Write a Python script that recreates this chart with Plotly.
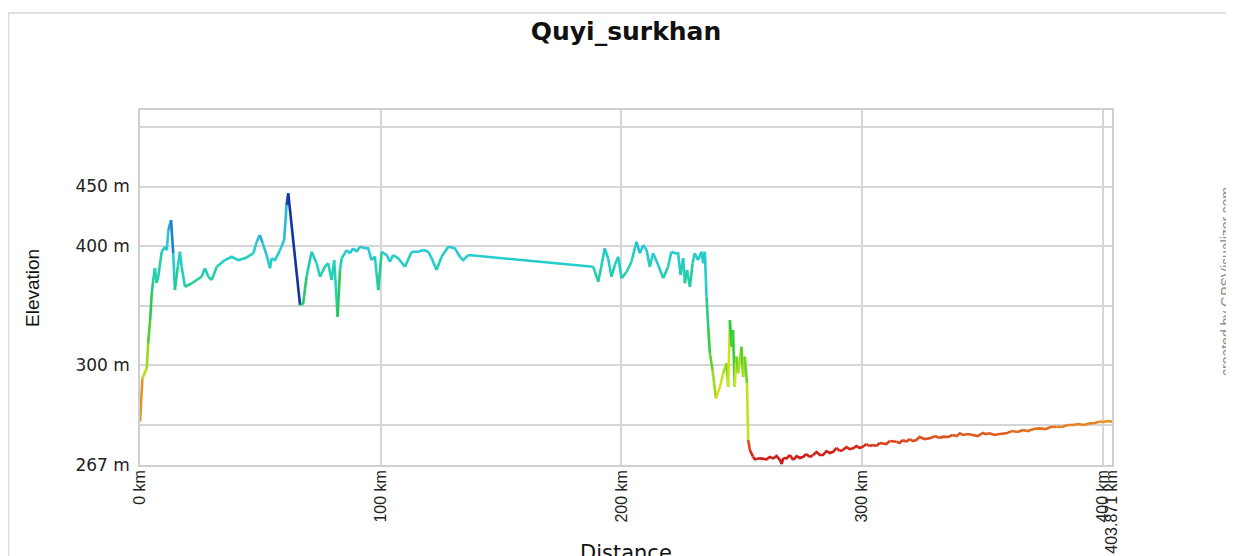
import plotly.graph_objects as go
from plotly.colors import sample_colorscale

# ---------------- data ----------------
distance_km = [
    0.0, 1.0, 2.8, 3.4, 4.2, 4.9, 5.5, 6.2, 6.9, 7.6, 9.0, 10.4, 11.1, 11.8, 12.9,
    13.8, 14.5, 15.7, 16.6, 17.3, 18.7, 21.5, 25.6, 27.0, 28.4, 29.8, 31.9, 35.3,
    38.1, 40.8, 43.6, 47.1, 48.5, 49.8, 51.0, 52.6, 54.0, 54.7, 56.1, 58.2, 59.9,
    60.9, 61.6, 66.5, 67.8, 69.2, 71.3, 73.4, 74.8, 76.8, 78.2, 79.6, 80.7, 82.1,
    83.1, 83.8, 85.9, 87.2, 88.6, 90.0, 91.4, 93.5, 94.8, 96.2, 97.6, 99.0, 100.4,
    102.5, 103.8, 105.2, 107.3, 110.1, 112.9, 115.6, 117.7, 119.8, 121.2, 123.2,
    125.3, 128.1, 130.8, 132.9, 134.3, 136.4, 188.3, 189.0, 190.4, 191.8, 193.1,
    194.5, 195.9, 197.3, 198.7, 200.1, 202.2, 204.2, 206.3, 207.7, 209.1, 210.5,
    211.8, 213.2, 215.3, 217.4, 219.4, 220.8, 222.2, 223.6, 224.6, 225.7, 226.4,
    227.3, 228.5, 229.6, 230.5, 231.9, 233.3, 234.0, 234.7, 235.4, 236.1, 236.8,
    237.9, 239.3, 241.0, 242.3, 243.7, 244.4, 245.1, 245.8, 246.4, 247.1, 247.8,
    248.5, 249.9, 250.6, 251.3, 252.2, 252.7, 253.4, 254.7, 255.5, 257.6, 260.3,
    261.7, 263.1, 264.5, 265.9, 266.6, 267.3, 268.7, 270.0, 271.4, 272.8, 274.2,
    275.6, 276.9, 278.3, 279.7, 281.1, 282.5, 283.8, 285.2, 286.6, 288.0, 289.4,
    290.8, 292.1, 293.5, 294.9, 296.3, 297.7, 299.0, 300.4, 301.8, 303.2, 304.6,
    306.0, 307.3, 308.7, 310.1, 311.5, 314.3, 315.6, 317.0, 318.4, 319.8, 321.2,
    322.6, 323.9, 326.0, 328.2, 330.2, 332.3, 333.7, 335.7, 337.7, 339.4, 340.6,
    341.9, 344.0, 346.1, 348.1, 350.2, 351.4, 353.1, 355.1, 357.2, 360.0, 362.2,
    364.7, 366.9, 368.8, 371.3, 373.8, 376.3, 378.4, 380.8, 383.0, 385.5, 387.7,
    390.0, 392.1, 394.6, 396.7, 398.8, 400.4, 402.1, 403.871,
]
elevation_m = [
    252.4, 288.8, 297.2, 318.5, 337.8, 360.5, 371.4, 381.5, 368.9, 374.2, 395.2,
    399.4, 396.6, 413.4, 421.8, 394.1, 363.0, 382.6, 395.2, 382.6, 365.8, 368.7,
    374.2, 381.3, 374.2, 371.4, 382.6, 388.2, 391.0, 388.2, 389.7, 393.9, 403.6,
    409.2, 402.3, 392.4, 381.3, 389.7, 388.2, 396.6, 405.0, 434.5, 444.3, 350.4,
    351.8, 374.2, 395.2, 385.5, 374.2, 382.6, 385.5, 371.4, 388.2, 340.6, 379.8,
    389.7, 396.6, 393.9, 398.1, 395.2, 399.4, 398.1, 398.1, 388.2, 391.0, 363.0,
    395.2, 392.4, 386.8, 392.4, 389.7, 382.6, 395.2, 395.2, 396.6, 395.2, 389.7,
    379.8, 391.0, 399.4, 398.1, 391.0, 388.2, 392.4, 382.6, 378.4, 370.0, 384.0,
    398.1, 389.7, 374.2, 384.0, 391.0, 372.9, 378.4, 386.8, 403.6, 393.9, 400.8,
    396.6, 382.6, 393.9, 384.0, 372.9, 382.6, 395.2, 393.9, 393.9, 375.6, 389.7,
    368.7, 379.8, 365.8, 385.5, 393.9, 388.2, 395.2, 385.5, 395.2, 357.4, 332.2,
    309.8, 295.8, 272.0, 281.8, 293.0, 301.4, 281.8, 337.8, 315.4, 329.4, 281.8,
    307.0, 293.0, 315.4, 290.2, 307.0, 284.6, 237.0, 228.6, 223.0, 220.8, 221.6,
    220.8, 222.7, 221.6, 223.5, 220.2, 216.8, 221.9, 221.6, 224.4, 220.2, 223.5,
    221.9, 222.9, 225.2, 222.7, 224.4, 226.9, 224.4, 224.4, 227.7, 226.1, 227.1,
    230.3, 227.7, 228.6, 231.1, 229.4, 230.0, 231.9, 230.3, 231.4, 233.6, 231.9,
    232.8, 231.9, 234.5, 234.2, 233.6, 236.1, 235.5, 234.5, 237.0, 235.5, 237.8,
    236.1, 237.0, 239.5, 237.8, 238.4, 240.3, 238.7, 239.8, 239.5, 241.2, 240.3,
    242.6, 241.2, 242.0, 241.2, 240.3, 242.9, 242.0, 242.6, 241.2, 242.0, 242.6,
    244.5, 243.7, 245.4, 244.5, 246.2, 246.8, 246.2, 247.9, 248.2, 247.9, 249.6,
    249.6, 250.4, 249.6, 251.0, 251.3, 252.5, 252.1, 252.9, 252.4,
]

x_tickvals = [0, 100, 200, 300, 400, 403.871]
x_ticktext = ["0 km", "100 km", "200 km", "300 km", "400 km", "403.871 km"]
y_tickvals = [216, 250, 300, 350, 400, 450, 500]
y_ticktext = ["267 m", "", "300 m", "", "400 m", "450 m", ""]

chart_title = "Quyi_surkhan"
x_title = "Distance"
y_title = "Elevation"
credit = "created by GPSVisualizer.com"

# ---------------- styling ----------------
X_RANGE = [0, 403.871]
Y_RANGE = [216.0, 514.3]

stops = [
    (216, "rgb(205,20,20)"), (228, "rgb(215,40,25)"), (240, "rgb(222,85,30)"),
    (252, "rgb(228,145,35)"), (266, "rgb(228,205,35)"), (278, "rgb(212,232,30)"),
    (292, "rgb(170,222,30)"), (312, "rgb(90,208,40)"), (340, "rgb(40,200,80)"),
    (365, "rgb(35,205,150)"), (385, "rgb(35,208,190)"), (400, "rgb(40,200,215)"),
    (415, "rgb(35,160,220)"), (430, "rgb(25,90,190)"), (450, "rgb(15,35,150)"),
]
vmin, vmax = stops[0][0], stops[-1][0]
colorscale = [[(v - vmin) / (vmax - vmin), c] for v, c in stops]


def color_for(v):
    t = min(max((v - vmin) / (vmax - vmin), 0.0), 1.0)
    return sample_colorscale(colorscale, [t])[0]


fig = go.Figure()

# group consecutive segments whose start elevation falls in the same 4 m bin
BIN = 4.0
n = len(distance_km)
i = 0
while i < n - 1:
    b = int((elevation_m[i] - vmin) // BIN)
    j = i
    while j + 1 < n - 1 and int((elevation_m[j + 1] - vmin) // BIN) == b:
        j += 1
    fig.add_trace(go.Scatter(
        x=distance_km[i:j + 2], y=elevation_m[i:j + 2], mode="lines",
        line=dict(color=color_for(elevation_m[i]), width=2.6),
        showlegend=False, hoverinfo="skip",
    ))
    i = j + 1

# page body adds an 8 px offset; work in screen pixels and subtract it
OFF = 8
W, H = 1226, 548
L = 140 - OFF
T = 110 - OFF
R = W - (1112 - OFF)
B = H - (465 - OFF)
pw, ph = W - L - R, H - T - B


def px_to_paper_x(px):
    return (px - OFF - L) / pw


def px_to_paper_y(py):
    return (H - B - (py - OFF)) / ph


grid = "#d6d6d6"
fig.update_layout(
    width=W, height=H,
    margin=dict(l=L, r=R, t=T, b=B, pad=0, autoexpand=False),
    paper_bgcolor="white", plot_bgcolor="white",
    title=dict(
        text=chart_title, x=0.5, xref="paper", xanchor="center",
        y=1 - (31 - OFF) / H, yref="container", yanchor="middle",
        font=dict(family="DejaVu Sans", size=25, color="#111", weight="bold"),
    ),
    xaxis=dict(
        range=X_RANGE, tickmode="array", tickvals=x_tickvals, ticktext=x_ticktext,
        tickangle=-90, tickfont=dict(family="Liberation Sans", size=16, color="#222"),
        showgrid=True, gridcolor=grid, gridwidth=1.5, zeroline=False,
        showline=True, linecolor="#cfcfcf", linewidth=1.5, mirror=True,
        ticks="", ticklabelstandoff=-3, automargin=False,
    ),
    yaxis=dict(
        range=Y_RANGE, tickmode="array", tickvals=y_tickvals, ticktext=y_ticktext,
        tickfont=dict(family="DejaVu Sans", size=17, color="#222"),
        showgrid=True, gridcolor=grid, gridwidth=1.5, zeroline=False,
        showline=True, linecolor="#cfcfcf", linewidth=1.5, mirror=True,
        ticks="", ticklabelstandoff=5, automargin=False,
    ),
    annotations=[
        dict(text=y_title, xref="paper", yref="paper", x=px_to_paper_x(32),
             y=px_to_paper_y(288), xanchor="center", yanchor="middle",
             textangle=-90, showarrow=False,
             font=dict(family="Liberation Sans", size=19, color="#111")),
        dict(text=x_title, xref="paper", yref="paper", x=0.5,
             y=px_to_paper_y(539), xanchor="center", yanchor="top",
             showarrow=False,
             font=dict(family="DejaVu Sans", size=21, color="#111")),
        dict(text=credit, xref="paper", yref="paper", x=px_to_paper_x(1226),
             y=px_to_paper_y(282), xanchor="center", yanchor="middle",
             textangle=-90, showarrow=False,
             font=dict(family="Liberation Sans", size=14, color="#8a8a8a")),
    ],
    shapes=[
        dict(type="rect", xref="paper", yref="paper",
             x0=px_to_paper_x(8.5), x1=px_to_paper_x(1300),
             y0=px_to_paper_y(700), y1=px_to_paper_y(13),
             line=dict(color="#d9d9d9", width=1.5), layer="below"),
    ],
)

fig.write_html("out.html")
